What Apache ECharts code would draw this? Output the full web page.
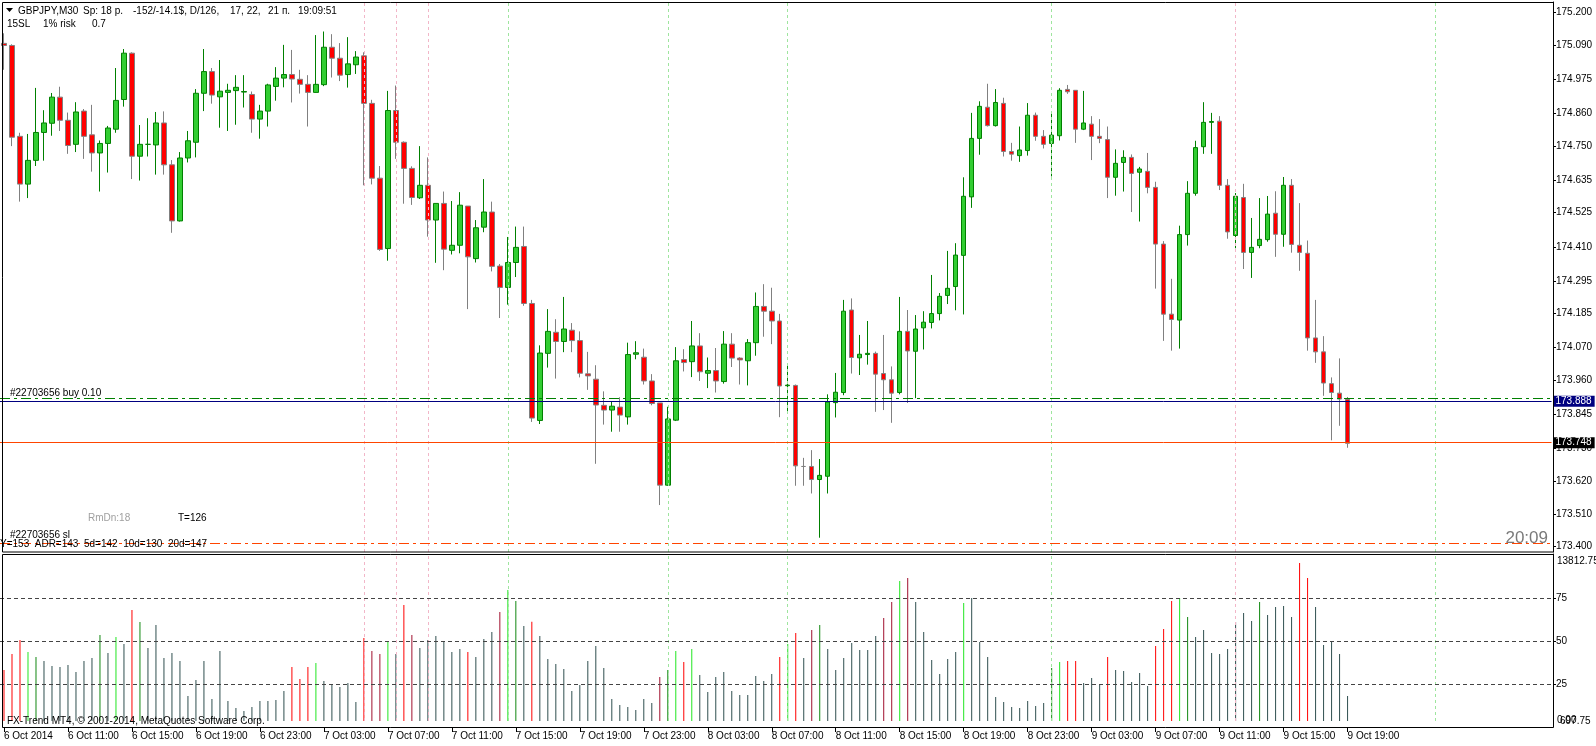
<!DOCTYPE html>
<html>
<head>
<meta charset="utf-8">
<title>GBPJPY,M30</title>
<script src="https://cdn.jsdelivr.net/npm/echarts@6/dist/echarts.min.js"></script>
<style>
  html, body { margin: 0; padding: 0; background: #fff; }
  #chart { width: 1596px; height: 746px; }
</style>
</head>
<body>
<div id="chart"></div>
<script>
// time axis labels, one every 8 bars (M30 -> every 4 hours)
var tickLabels = ['6 Oct 2014', '6 Oct 11:00', '6 Oct 15:00', '6 Oct 19:00', '6 Oct 23:00',
  '7 Oct 03:00', '7 Oct 07:00', '7 Oct 11:00', '7 Oct 15:00', '7 Oct 19:00', '7 Oct 23:00',
  '8 Oct 03:00', '8 Oct 07:00', '8 Oct 11:00', '8 Oct 15:00', '8 Oct 19:00', '8 Oct 23:00',
  '9 Oct 03:00', '9 Oct 07:00', '9 Oct 11:00', '9 Oct 15:00', '9 Oct 19:00'];

var opens = [
  175.095, 175.088, 174.782, 174.621, 174.701, 174.795, 174.826, 174.914, 174.836, 174.755,
  174.867, 174.787, 174.726, 174.758, 174.806, 174.906, 175.062, 174.715, 174.755, 174.753,
  174.827, 174.686, 174.497, 174.709, 174.762, 174.927, 175.000, 174.915, 174.930, 174.936,
  174.931, 174.923, 174.840, 174.867, 174.950, 174.978, 174.990, 174.974, 174.957, 174.930,
  174.956, 175.082, 175.045, 174.990, 175.023, 175.053, 174.893, 174.641, 174.404, 174.869,
  174.762, 174.674, 174.575, 174.617, 174.500, 174.556, 174.398, 174.415, 174.547, 174.370,
  174.476, 174.527, 174.345, 174.273, 174.357, 174.411, 174.219, 173.825, 174.051, 174.122,
  174.091, 174.129, 174.094, 173.982, 173.964, 173.876, 173.860, 173.870, 173.837, 174.048,
  174.038, 173.958, 173.884, 173.607, 173.826, 174.030, 174.023, 174.076, 173.984, 173.993,
  173.956, 174.082, 174.035, 174.026, 174.087, 174.209, 174.193, 174.160, 173.942, 173.943,
  173.670, 173.670, 173.626, 173.637, 173.885, 173.919, 174.197, 174.036, 174.047, 174.051,
  173.983, 173.962, 173.919, 174.125, 174.058, 174.137, 174.155, 174.185, 174.246, 174.276,
  174.381, 174.578, 174.775, 174.880, 174.818, 174.893, 174.731, 174.717, 174.734, 174.853,
  174.782, 174.758, 174.784, 174.940, 174.937, 174.806, 174.823, 174.782, 174.771, 174.644,
  174.694, 174.711, 174.661, 174.664, 174.610, 174.419, 174.183, 174.163, 174.451, 174.590,
  174.747, 174.829, 174.833, 174.617, 174.448, 174.576, 174.391, 174.414, 174.434, 174.523,
  174.452, 174.617, 174.415, 174.388, 174.103, 174.056, 173.949, 173.917, 173.896
];
var closes = [
  175.088, 174.779, 174.621, 174.701, 174.795, 174.827, 174.914, 174.836, 174.751, 174.864,
  174.782, 174.726, 174.758, 174.810, 174.903, 175.062, 174.715, 174.755, 174.755, 174.827,
  174.686, 174.497, 174.709, 174.767, 174.927, 175.000, 174.921, 174.934, 174.937, 174.947,
  174.933, 174.840, 174.867, 174.955, 174.978, 174.990, 174.975, 174.957, 174.930, 174.957,
  175.082, 175.045, 174.988, 175.026, 175.049, 174.893, 174.641, 174.401, 174.869, 174.762,
  174.674, 174.576, 174.617, 174.500, 174.556, 174.402, 174.415, 174.550, 174.376, 174.474,
  174.527, 174.344, 174.273, 174.357, 174.408, 174.219, 173.833, 174.052, 174.125, 174.091,
  174.133, 174.094, 173.984, 173.975, 173.877, 173.860, 173.873, 173.843, 174.047, 174.053,
  173.958, 173.882, 173.607, 173.830, 174.026, 174.020, 174.076, 173.989, 173.993, 173.958,
  174.082, 174.035, 174.029, 174.087, 174.209, 174.193, 174.160, 173.941, 173.944, 173.672,
  173.670, 173.626, 173.640, 173.887, 173.920, 174.193, 174.037, 174.048, 174.051, 173.981,
  173.962, 173.917, 174.125, 174.059, 174.133, 174.156, 174.185, 174.243, 174.270, 174.382,
  174.580, 174.775, 174.883, 174.818, 174.896, 174.731, 174.722, 174.736, 174.853, 174.782,
  174.755, 174.786, 174.937, 174.932, 174.806, 174.827, 174.782, 174.775, 174.644, 174.691,
  174.711, 174.657, 174.672, 174.610, 174.419, 174.183, 174.165, 174.451, 174.590, 174.744,
  174.829, 174.832, 174.617, 174.460, 174.580, 174.391, 174.408, 174.435, 174.520, 174.452,
  174.617, 174.418, 174.391, 174.103, 174.056, 173.951, 173.919, 173.897, 173.748
];
var lows = [
  175.006, 174.749, 174.562, 174.574, 174.682, 174.700, 174.784, 174.800, 174.723, 174.729,
  174.706, 174.663, 174.596, 174.660, 174.794, 174.882, 174.638, 174.633, 174.714, 174.653,
  174.653, 174.457, 174.495, 174.694, 174.711, 174.867, 174.892, 174.811, 174.800, 174.821,
  174.879, 174.794, 174.774, 174.815, 174.902, 174.947, 174.896, 174.926, 174.815, 174.929,
  174.951, 174.980, 174.968, 174.946, 174.992, 174.617, 174.620, 174.396, 174.363, 174.706,
  174.555, 174.551, 174.571, 174.444, 174.356, 174.331, 174.384, 174.388, 174.200, 174.357,
  174.459, 174.327, 174.170, 174.215, 174.308, 174.211, 173.820, 173.813, 174.003, 173.966,
  174.055, 174.055, 173.970, 173.928, 173.679, 173.811, 173.787, 173.787, 173.811, 174.031,
  173.946, 173.876, 173.540, 173.605, 173.823, 173.990, 173.971, 173.958, 173.934, 173.919,
  173.949, 174.005, 173.946, 173.943, 174.043, 174.107, 174.082, 173.836, 173.849, 173.605,
  173.605, 173.579, 173.430, 173.579, 173.835, 173.910, 173.983, 173.978, 174.013, 173.854,
  173.860, 173.817, 173.913, 173.884, 173.900, 174.064, 174.135, 174.162, 174.217, 174.196,
  174.182, 174.541, 174.720, 174.815, 174.815, 174.714, 174.700, 174.696, 174.717, 174.767,
  174.741, 174.647, 174.768, 174.925, 174.760, 174.803, 174.702, 174.759, 174.574, 174.582,
  174.596, 174.527, 174.495, 174.590, 174.269, 174.093, 174.060, 174.067, 174.414, 174.582,
  174.723, 174.723, 174.601, 174.437, 174.405, 174.335, 174.305, 174.405, 174.427, 174.376,
  174.410, 174.390, 174.329, 174.060, 174.019, 173.908, 173.758, 173.807, 173.733
];
var highs = [
  175.129, 175.092, 174.794, 174.790, 174.945, 174.870, 174.928, 174.949, 174.862, 174.897,
  174.874, 174.888, 174.768, 174.817, 175.012, 175.076, 175.065, 174.820, 174.843, 174.864,
  174.866, 174.702, 174.729, 174.800, 174.941, 175.076, 175.012, 175.039, 174.959, 174.988,
  174.988, 174.933, 174.888, 174.959, 175.015, 175.090, 175.073, 175.006, 174.988, 175.123,
  175.135, 175.126, 175.096, 175.116, 175.069, 175.065, 174.905, 174.682, 174.935, 174.953,
  174.765, 174.681, 174.749, 174.711, 174.556, 174.596, 174.564, 174.594, 174.547, 174.500,
  174.638, 174.562, 174.352, 174.443, 174.478, 174.478, 174.231, 174.078, 174.200, 174.166,
  174.241, 174.153, 174.125, 174.056, 174.011, 173.923, 173.887, 173.903, 174.087, 174.092,
  174.067, 173.981, 173.884, 173.871, 174.072, 174.065, 174.160, 174.119, 174.037, 174.069,
  174.126, 174.119, 174.038, 174.099, 174.256, 174.284, 174.272, 174.184, 174.017, 173.946,
  173.699, 173.725, 173.695, 173.913, 173.985, 174.231, 174.236, 174.113, 174.160, 174.057,
  174.113, 174.007, 174.241, 174.197, 174.180, 174.193, 174.315, 174.254, 174.396, 174.422,
  174.644, 174.861, 174.900, 174.959, 174.941, 174.912, 174.760, 174.815, 174.894, 174.862,
  174.803, 174.864, 174.944, 174.955, 174.937, 174.935, 174.850, 174.840, 174.815, 174.738,
  174.735, 174.721, 174.679, 174.726, 174.629, 174.429, 174.302, 174.481, 174.631, 174.767,
  174.897, 174.861, 174.850, 174.638, 174.591, 174.622, 174.507, 174.574, 174.581, 174.597,
  174.645, 174.638, 174.557, 174.431, 174.231, 174.109, 173.970, 174.034, 173.904
];

// lower indicator histogram (0..100 scale)
var volumes = [
  33.3, 42.6, 50.8, 43.8, 40.9, 38.6, 35.7, 35.1, 36.2, 32.2, 38.6, 40.3, 53.7, 43.2, 52.5, 48.4,
  68.2, 61.2, 46.1, 59.5, 40.3, 43.2, 38.6, 18.2, 27.5, 38.6, 16.5, 44.4, 15.3, 11.2, 9.5, 11.8, 15.3,
  15.3, 15.9, 21.1, 35.1, 28.1, 35.1, 37.4, 26.9, 25.2, 23.4, 25.8, 14.7, 51.9, 44.4, 42.6, 49.6, 42.6,
  71.1, 53.7, 46.1, 50.8, 53.1, 50.0, 43.8, 45.5, 43.8, 40.9, 51.4, 55.4, 67.1, 79.8, 73.4, 58.9, 61.4,
  53.1, 39.7, 36.8, 33.9, 21.1, 24.6, 38.6, 47.3, 34.5, 16.5, 13.0, 11.8, 10.1, 16.5, 14.1, 29.3, 33.3,
  44.4, 38.0, 45.5, 30.4, 20.5, 29.3, 32.2, 21.1, 18.8, 18.8, 29.8, 26.9, 31.0, 40.9, 48.4, 54.8,
  40.3, 56.6, 59.5, 45.5, 33.3, 40.3, 49.0, 45.0, 45.0, 53.1, 63.6, 72.9, 85.1, 86.8, 72.9, 55.4, 39.1,
  31.0, 39.7, 43.8, 72.3, 75.2, 49.6, 40.9, 17.6, 14.7, 11.8, 11.2, 15.3, 12.4, 14.1, 34.5, 38.0,
  38.6, 38.6, 25.8, 28.7, 25.2, 40.9, 33.3, 32.8, 26.4, 31.6, 24.0, 47.3, 57.2, 73.4, 75.2, 64.1, 52.5,
  56.6, 43.2, 42.6, 45.5, 61.2, 66.5, 61.8, 72.9, 65.3, 70.0, 70.5, 64.1, 95.5, 86.8, 70.0, 47.9,
  50.0, 42.6, 18.2
];
// n = neutral, d = down, D = down (weak), u = up, U = up (weak)
var volumeStates = (
  'ddduUnnnnnnnUnundUnnnnnnnnnnnnnnn' +
  'nnndddunnnnndDDundDnnnnnndnnnDuUnd' +
  'nnnnnnnnnnnnnnnDUudunnnnnnnnnndud' +
  'nDUnnnnnnnDDuDnnnnnnunnnnnnnnnnUu' +
  'ddnnndnnnnndddu' + 'UnnnnnnnnUnnnnddnn' +
  'nnn').split('');

var priceTicks = [175.200, 175.090, 174.975, 174.860, 174.750, 174.635, 174.525, 174.410,
  174.295, 174.185, 174.070, 173.960, 173.845, 173.730, 173.620, 173.510, 173.400];
var levelTicks = [25, 50, 75];

var pinkSessions = [45, 49, 53, 154];
var greenSessions = [63, 83, 98, 131, 179];

var orderLevel = 173.895;   // #22703656 buy 0.10
var blueLevel = 173.888;
var bidLevel = 173.748;
var stopLevel = 173.414;    // #22703656 sl

var SLOT_COUNT = 194;       // bars on screen incl. empty space on the right
var PRICE_MIN = 173.3819, PRICE_MAX = 175.2344;
var LEVEL_MIN = 3.66, LEVEL_MAX = 100.76;

var FONT = '"Liberation Sans", Arial, sans-serif';
var volumeColors = { n: '#2F4F4F', d: '#FF0000', D: '#A0102E', u: '#22E622', U: '#118811' };

var slots = [];
for (var i = 0; i < SLOT_COUNT; i++) slots.push(String(i));

function isTimeTick(idx) { return idx % 8 === 0 && idx / 8 < tickLabels.length; }

function sessionLines() {
  var out = [];
  pinkSessions.forEach(function (x) {
    out.push({ xAxis: x, lineStyle: { color: '#F2B6C8', type: [3, 3], width: 1 } });
  });
  greenSessions.forEach(function (x) {
    out.push({ xAxis: x, lineStyle: { color: '#9EE59E', type: [3, 3], width: 1 } });
  });
  return out;
}

function priceTag(value, bg) {
  return {
    show: true, position: 'end', distance: 2, formatter: value.toFixed(3),
    color: '#fff', backgroundColor: bg, padding: [1, 3, 0, 2],
    fontSize: 10, fontFamily: FONT
  };
}

function text(x, y, str, opt) {
  opt = opt || {};
  return {
    type: 'text', x: x, y: y, z: 20, silent: true,
    style: {
      text: str, fill: opt.color || '#000',
      font: (opt.size || 10) + 'px ' + FONT,
      align: opt.align || 'left', verticalAlign: 'middle'
    }
  };
}

var chart = echarts.init(document.getElementById('chart'));

chart.setOption({
  animation: false,
  backgroundColor: '#fff',
  grid: [
    { left: -0.5, top: 2, width: 1552, height: 550 },
    { left: -0.5, top: 554, width: 1552, height: 167 }
  ],
  xAxis: [
    {
      type: 'category', gridIndex: 0, data: slots, boundaryGap: true,
      axisLine: { show: false }, axisTick: { show: false }, axisLabel: { show: false },
      splitLine: { show: false }
    },
    {
      type: 'category', gridIndex: 1, data: slots, boundaryGap: true, offset: 7,
      axisLine: { show: false },
      axisTick: {
        show: true, alignWithLabel: true, length: 4,
        interval: function (idx) { return isTimeTick(idx); },
        lineStyle: { color: '#000' }
      },
      axisLabel: {
        interval: function (idx) { return isTimeTick(idx); },
        formatter: function (v, idx) { return isTimeTick(idx) ? tickLabels[idx / 8] : ''; },
        align: 'left', margin: 3, color: '#000', fontSize: 10, fontFamily: FONT
      },
      splitLine: { show: false }
    }
  ],
  yAxis: [
    {
      type: 'value', gridIndex: 0, position: 'right', offset: 1.5,
      min: PRICE_MIN, max: PRICE_MAX, splitLine: { show: false },
      axisLine: { show: true, lineStyle: { color: '#000' } },
      axisTick: { show: true, length: 3, customValues: priceTicks, lineStyle: { color: '#000' } },
      axisLabel: {
        customValues: priceTicks, margin: 3, color: '#000', fontSize: 10, fontFamily: FONT,
        formatter: function (v) { return v.toFixed(3); }
      }
    },
    {
      type: 'value', gridIndex: 1, position: 'right', offset: 1.5,
      min: LEVEL_MIN, max: LEVEL_MAX, splitLine: { show: false },
      axisLine: { show: true, lineStyle: { color: '#000' } },
      axisTick: { show: true, length: 3, customValues: levelTicks, lineStyle: { color: '#000' } },
      axisLabel: {
        customValues: levelTicks, margin: 3, color: '#000', fontSize: 10, fontFamily: FONT,
        formatter: function (v) { return String(v); }
      }
    }
  ],
  series: [
    {
      name: 'GBPJPY', type: 'candlestick', xAxisIndex: 0, yAxisIndex: 0, barWidth: 5,
      data: opens.map(function (o, i) { return [o, closes[i], lows[i], highs[i]]; }),
      itemStyle: {
        color: '#32CD32', color0: '#FF0000',
        borderColor: '#008000', borderColor0: '#808080', borderWidth: 1
      },
      markLine: {
        silent: true, symbol: ['none', 'none'], animation: false,
        label: { show: false },
        data: sessionLines().concat([
          { yAxis: orderLevel, lineStyle: { color: '#008000', type: [10, 4, 3, 4], width: 1 } },
          { yAxis: blueLevel, lineStyle: { color: '#000080', type: 'solid', width: 1 }, label: priceTag(blueLevel, '#000080') },
          { yAxis: bidLevel, lineStyle: { color: '#FF4500', type: 'solid', width: 1 }, label: priceTag(bidLevel, '#000') },
          { yAxis: stopLevel, lineStyle: { color: '#FF4500', type: [10, 4, 3, 4], width: 1 } }
        ])
      }
    },
    {
      name: 'levels', type: 'bar', xAxisIndex: 1, yAxisIndex: 1, barWidth: 1,
      data: volumes.map(function (v, i) {
        return { value: v, itemStyle: { color: volumeColors[volumeStates[i]] } };
      }),
      markLine: {
        silent: true, symbol: ['none', 'none'], animation: false,
        label: { show: false },
        data: sessionLines().concat(levelTicks.map(function (l) {
          return { yAxis: l, lineStyle: { color: '#444', type: [4, 3], width: 1 } };
        }))
      }
    }
  ]
});

var orderY = chart.convertToPixel({ yAxisIndex: 0 }, orderLevel);
var stopY = chart.convertToPixel({ yAxisIndex: 0 }, stopLevel);

chart.setOption({
  graphic: [
    { type: 'rect', z: 15, silent: true, shape: { x: 2.5, y: 2.5, width: 1551, height: 549.5 },
      style: { fill: 'none', stroke: '#000', lineWidth: 1 } },
    { type: 'rect', z: 15, silent: true, shape: { x: 2.5, y: 554.5, width: 1551, height: 173 },
      style: { fill: 'none', stroke: '#000', lineWidth: 1 } },
    { type: 'polygon', z: 20, silent: true, shape: { points: [[6, 8], [13, 8], [9.5, 12]] },
      style: { fill: '#000' } },
    text(18, 11, 'GBPJPY,M30'),
    text(83, 11, 'Sp: 18 p.'),
    text(133, 11, '-152/-14.1$, D/126,'),
    text(230, 11, '17, 22,'),
    text(268, 11, '21 п.'),
    text(298, 11, '19:09:51'),
    text(7, 24, '15SL'),
    text(43, 24, '1% risk'),
    text(92, 24, '0.7'),
    text(10, orderY - 6, '#22703656 buy 0.10'),
    text(88, 518, 'RmDn:18', { color: '#A0A0A0' }),
    text(178, 518, 'T=126'),
    text(10, stopY - 7, '#22703656 sl'),
    text(0, 544, 'Y=153  ADR=143  5d=142  10d=130  20d=147'),
    text(1548, 538, '20:09', { size: 17, color: '#7A7A7A', align: 'right' }),
    text(7, 721, 'FX-Trend MT4, © 2001-2014, MetaQuotes Software Corp.'),
    text(1557, 561, '13812.75'),
    text(1557, 720, '0.00'),
    text(1560, 721, '697.75')
  ]
});
</script>
</body>
</html>
